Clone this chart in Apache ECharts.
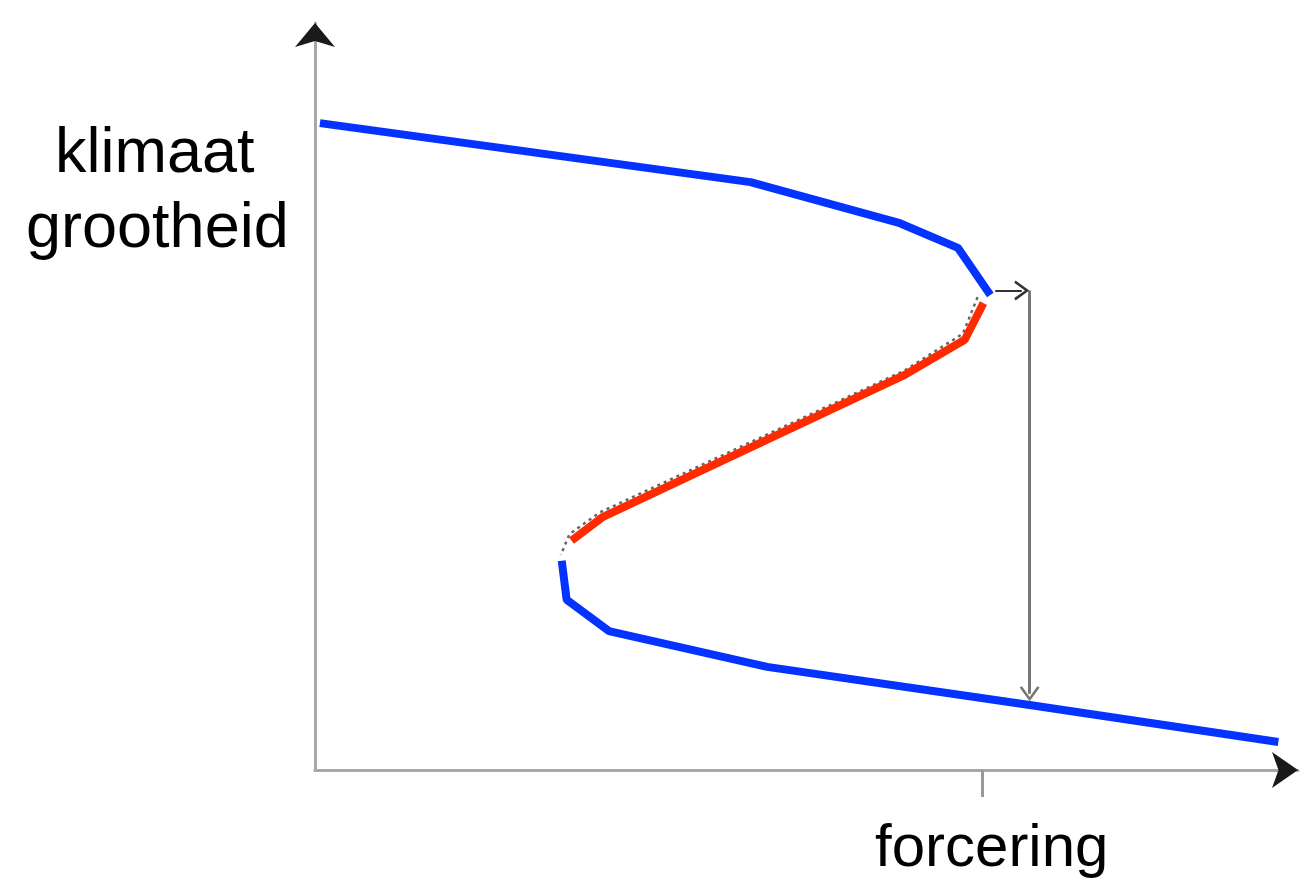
<!DOCTYPE html>
<html>
<head>
<meta charset="utf-8">
<script src="https://cdn.jsdelivr.net/npm/echarts@6/dist/echarts.min.js"></script>
<style>
  html, body { margin: 0; padding: 0; background: #fff; }
  #chart { width: 1311px; height: 889px; }
</style>
</head>
<body>
<div id="chart"></div>
<script>
// S-curve (hysteresis) in chart units, x = forcering, y = klimaat grootheid
const upperBranch = [[0.5, 86.6], [44.3, 78.7], [59.5, 73.2], [65.4, 69.9], [68.7, 63.6]];
const middleBranch = [[68.0, 62.5], [66.1, 57.6], [60.0, 52.9], [29.3, 33.9], [26.1, 30.7]];
const dottedTrace = [[67.4, 63.3], [65.9, 58.4], [60.0, 53.5], [29.0, 34.5], [25.9, 31.6], [25.0, 28.8]];
const lowerBranch = [[25.1, 28.0], [25.6, 22.8], [29.9, 18.6], [46.0, 13.8], [72.7, 8.7], [98.0, 3.75]];
// jump arrows: right along the top, then down to the lower branch
const jumpRight = [[69.2, 64.2], [71.9, 64.2]];
const jumpDown = [[72.7, 64.2], [72.7, 10.2]];
const forcingTicks = [67.9];
const axisEnds = [[0, 100], [100, 0]];

const chevron = 'path://M0,9 L6,0 L12,9 L10.6,9.8 L6,2.8 L1.4,9.8 Z';

const chart = echarts.init(document.getElementById('chart'));

const option = {
  animation: false,
  backgroundColor: '#fff',
  grid: { left: 315, right: 13, top: 23, bottom: 119 },
  xAxis: {
    type: 'value', min: 0, max: 100,
    splitLine: { show: false },
    axisLabel: { show: false },
    axisLine: { show: true, onZero: false, lineStyle: { color: '#a8a8a8', width: 3 } },
    axisTick: {
      show: true, inside: false, length: 27,
      customValues: forcingTicks,
      lineStyle: { color: '#999', width: 3 }
    }
  },
  yAxis: {
    type: 'value', min: 0, max: 100,
    splitLine: { show: false },
    axisLabel: { show: false },
    axisTick: { show: false },
    axisLine: { show: true, onZero: false, lineStyle: { color: '#a8a8a8', width: 3 } }
  },
  graphic: [
    { type: 'text', left: 55, top: 123, style: { text: 'klimaat', font: '63px "Liberation Sans", Arial, sans-serif', fill: '#000' } },
    { type: 'text', left: 26, top: 198, style: { text: 'grootheid', font: '63px "Liberation Sans", Arial, sans-serif', fill: '#000' } },
    { type: 'text', left: 875, top: 819, style: { text: 'forcering', font: '60px "Liberation Sans", Arial, sans-serif', fill: '#000' } }
  ],
  series: [
    {
      type: 'line', data: dottedTrace, symbol: 'none', silent: true,
      lineStyle: { color: '#666', width: 2.5, type: [3, 4] }, z: 1
    },
    {
      type: 'line', data: upperBranch, symbol: 'none',
      lineStyle: { color: '#0433ff', width: 8, cap: 'butt' }, z: 3
    },
    {
      type: 'line', data: middleBranch, symbol: 'none',
      lineStyle: { color: '#ff2a00', width: 8, cap: 'butt' }, z: 3
    },
    {
      type: 'line', data: lowerBranch, symbol: 'none',
      lineStyle: { color: '#0433ff', width: 8, cap: 'butt' }, z: 3
    },
    {
      type: 'line', data: [], symbol: 'none', z: 2,
      markLine: {
        silent: true, animation: false,
        symbol: ['none', chevron],
        symbolSize: [20, 15],
        label: { show: false },
        emphasis: { disabled: true },
        data: [
          [{ coord: jumpRight[0], lineStyle: { color: '#333', width: 2, type: 'solid' } }, { coord: jumpRight[1] }],
          [{ coord: jumpDown[0], lineStyle: { color: '#777', width: 3, type: 'solid' } }, { coord: jumpDown[1] }]
        ]
      },
      markPoint: {
        silent: true, animation: false,
        symbol: 'arrow',
        label: { show: false },
        itemStyle: { color: '#1a1a1a' },
        data: [
          { coord: axisEnds[0], symbolSize: [30, 24], symbolRotate: 0 },
          { coord: axisEnds[1], symbolSize: [27, 26], symbolRotate: -90 }
        ]
      }
    }
  ]
};

chart.setOption(option);
</script>
</body>
</html>
